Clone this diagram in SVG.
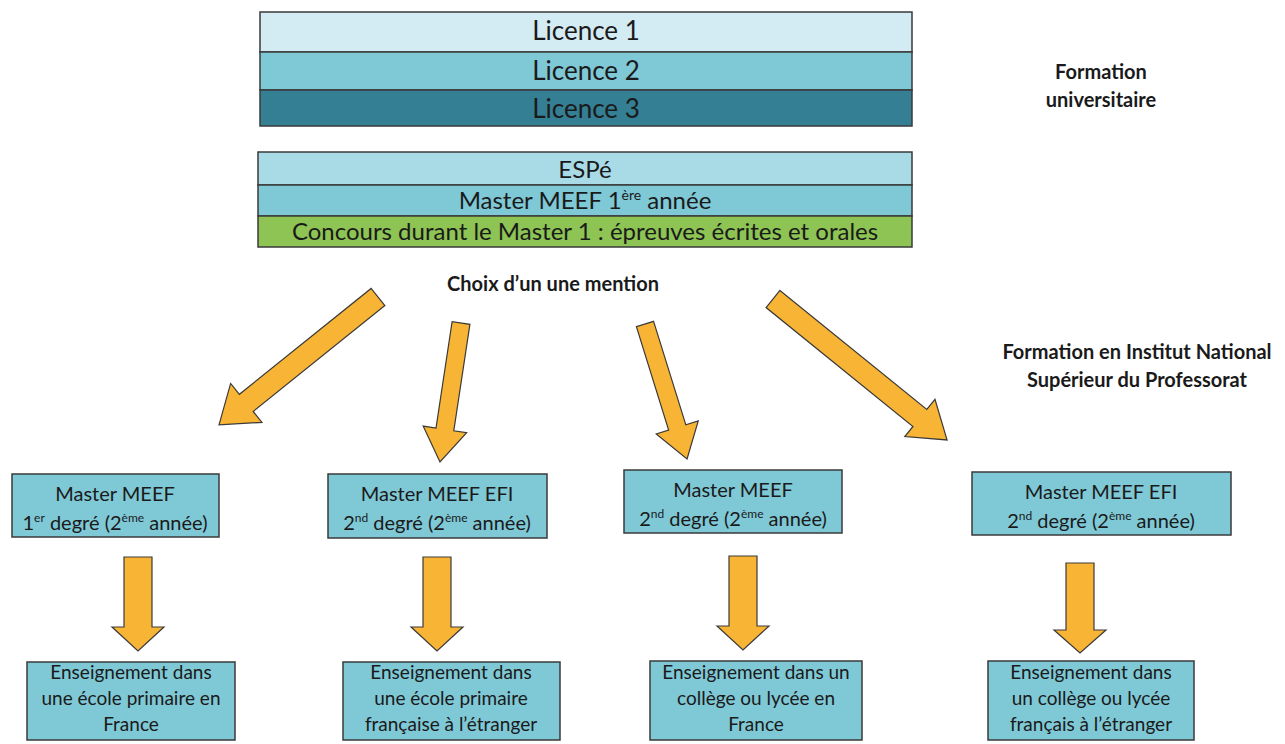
<svg xmlns="http://www.w3.org/2000/svg" width="1285" height="744" viewBox="0 0 1285 744">
<style>
text{font-family:Lato,"Open Sans","Liberation Sans",sans-serif;fill:#1a1a1a;text-anchor:middle}
.band{stroke:#3a3a3a;stroke-width:1.5}
.box{fill:#7fc8d6;stroke:#3a3a3a;stroke-width:1.5}
.arr{fill:#f8b434;stroke:#3a3a3a;stroke-width:1.2;stroke-linejoin:miter}
.t26{font-size:26px}
.t24{font-size:24px}
.t20{font-size:20px}
.t19{font-size:19px}
.lbl{font-size:20px;font-weight:bold}
</style>
<rect width="1285" height="744" fill="#ffffff"/>
<g id="licence">
<rect class="band" x="260" y="12" width="652" height="40" fill="#d3ebf2"/>
<rect class="band" x="260" y="52" width="652" height="38" fill="#7fc8d6"/>
<rect class="band" x="260" y="90" width="652" height="36" fill="#347f93"/>
<text class="t26" x="586" y="40">Licence 1</text>
<text class="t26" x="586" y="80">Licence 2</text>
<text class="t26" x="586" y="118">Licence 3</text>
</g>
<g id="espe">
<rect class="band" x="258" y="152" width="654" height="33" fill="#a9dbe7"/>
<rect class="band" x="258" y="185" width="654" height="31" fill="#7fc8d6"/>
<rect class="band" x="258" y="216" width="654" height="31" fill="#8dc453"/>
<text class="t24" x="585" y="178">ESPé</text>
<text class="t24" x="585" y="209">Master MEEF 1<tspan font-size="14" dy="-9">ère</tspan><tspan dy="9"> année</tspan></text>
<text class="t24" x="585" y="240">Concours durant le Master 1 : épreuves écrites et orales</text>
</g>
<g id="labels">
<text class="lbl" x="1101" y="79">Formation</text>
<text class="lbl" x="1101" y="107">universitaire</text>
<text class="lbl" x="553" y="291">Choix d’un une mention</text>
<text class="lbl" x="1137" y="359">Formation en Institut National</text>
<text class="lbl" x="1137" y="387">Supérieur du Professorat</text>
</g>
<g id="connectors">
<polygon class="arr" transform="translate(378,297) rotate(141.2)" points="0,-11 169,-11 169,-25 204,0 169,25 169,11 0,11"/>
<polygon class="arr" transform="translate(461,323) rotate(98.6)" points="0,-9 107.6,-9 107.6,-22 140.6,0 107.6,22 107.6,9 0,9"/>
<polygon class="arr" transform="translate(645,324) rotate(72.7)" points="0,-9 108.4,-9 108.4,-22 141.4,0 108.4,22 108.4,9 0,9"/>
<polygon class="arr" transform="translate(773,299) rotate(39)" points="0,-11 189,-11 189,-24 224,0 189,24 189,11 0,11"/>
<polygon class="arr" points="124,557 152,557 152,627 164,627 138,651 112,627 124,627"/>
<polygon class="arr" points="423,557 451,557 451,627 463,627 437,651 411,627 423,627"/>
<polygon class="arr" points="729,556 757,556 757,626 769,626 743,650 717,626 729,626"/>
<polygon class="arr" points="1066,563 1094,563 1094,630 1106,630 1080,653 1054,630 1066,630"/>
</g>
<g id="m1">
<rect class="box" x="12" y="474" width="207" height="63"/>
<text class="t20" x="115" y="501">Master MEEF</text>
<text class="t20" x="115" y="530">1<tspan font-size="12" dy="-8">er</tspan><tspan dy="8"> degré (2</tspan><tspan font-size="12" dy="-8">ème</tspan><tspan dy="8"> année)</tspan></text>
</g>
<g id="m2">
<rect class="box" x="328" y="474" width="219" height="64"/>
<text class="t20" x="437" y="501">Master MEEF EFI</text>
<text class="t20" x="437" y="530">2<tspan font-size="12" dy="-8">nd</tspan><tspan dy="8"> degré (2</tspan><tspan font-size="12" dy="-8">ème</tspan><tspan dy="8"> année)</tspan></text>
</g>
<g id="m3">
<rect class="box" x="624" y="470" width="218" height="63"/>
<text class="t20" x="733" y="497">Master MEEF</text>
<text class="t20" x="733" y="526">2<tspan font-size="12" dy="-8">nd</tspan><tspan dy="8"> degré (2</tspan><tspan font-size="12" dy="-8">ème</tspan><tspan dy="8"> année)</tspan></text>
</g>
<g id="m4">
<rect class="box" x="972" y="472" width="259" height="63"/>
<text class="t20" x="1101" y="499">Master MEEF EFI</text>
<text class="t20" x="1101" y="528">2<tspan font-size="12" dy="-8">nd</tspan><tspan dy="8"> degré (2</tspan><tspan font-size="12" dy="-8">ème</tspan><tspan dy="8"> année)</tspan></text>
</g>
<g id="e1">
<rect class="box" x="27" y="662" width="208" height="78"/>
<text class="t19" x="131" y="679">Enseignement dans</text>
<text class="t19" x="131" y="705">une école primaire en</text>
<text class="t19" x="131" y="731">France</text>
</g>
<g id="e2">
<rect class="box" x="343" y="662" width="217" height="78"/>
<text class="t19" x="451" y="679">Enseignement dans</text>
<text class="t19" x="451" y="705">une école primaire</text>
<text class="t19" x="451" y="731">française à l’étranger</text>
</g>
<g id="e3">
<rect class="box" x="650" y="661" width="212" height="79"/>
<text class="t19" x="756" y="679">Enseignement dans un</text>
<text class="t19" x="756" y="705">collège ou lycée en</text>
<text class="t19" x="756" y="731">France</text>
</g>
<g id="e4">
<rect class="box" x="988" y="661" width="206" height="79"/>
<text class="t19" x="1091" y="679">Enseignement dans</text>
<text class="t19" x="1091" y="705">un collège ou lycée</text>
<text class="t19" x="1091" y="731">français à l’étranger</text>
</g>
</svg>
